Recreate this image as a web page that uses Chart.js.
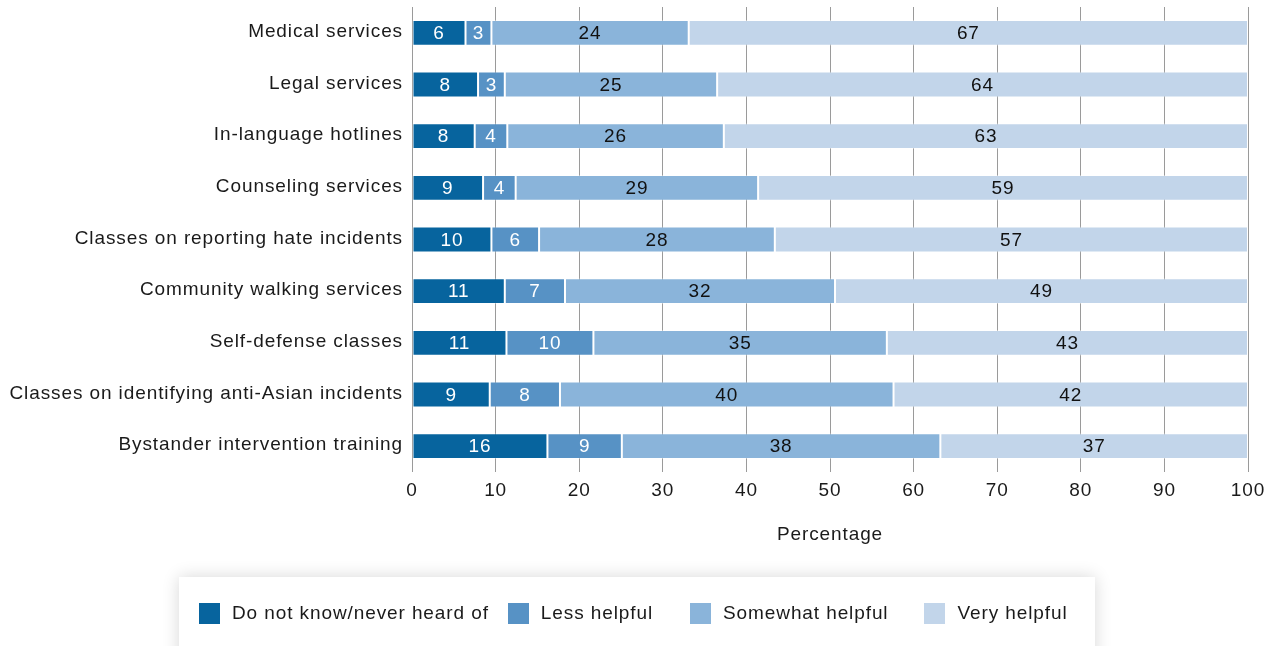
<!DOCTYPE html>
<html>
<head>
<meta charset="utf-8">
<script src="https://cdn.jsdelivr.net/npm/chart.js@4/dist/chart.umd.min.js"></script>
<style>
html,body{margin:0;padding:0;background:#fff;}
body{width:1271px;height:646px;overflow:hidden;position:relative;font-family:"Liberation Sans",Arial,sans-serif;}
#wrap{position:absolute;left:0;top:0;width:1271px;height:560px;}
#legend{position:absolute;left:179px;top:577px;width:916px;height:90px;background:#fff;
  box-shadow:0 0 16px rgba(0,0,0,0.16);display:flex;align-items:flex-start;padding-top:25px;box-sizing:border-box;padding-left:20px;}
.item{display:flex;align-items:center;font-size:19px;letter-spacing:0.9px;color:#1a1a1a;white-space:nowrap;}
.sw{width:21px;height:21px;margin-right:12px;}
</style>
</head>
<body>
<div id="wrap"><canvas id="chart"></canvas></div>
<div id="legend"></div>
<script>
const categories = [
  "Medical services",
  "Legal services",
  "In-language hotlines",
  "Counseling services",
  "Classes on reporting hate incidents",
  "Community walking services",
  "Self-defense classes",
  "Classes on identifying anti-Asian incidents",
  "Bystander intervention training"
];

const seriesNames = ["Do not know/never heard of", "Less helpful", "Somewhat helpful", "Very helpful"];

const notKnown = [6.4, 7.9, 7.5, 8.5, 9.5, 11.1, 11.3, 9.3, 16.2];
const lessHelpful = [3.1, 3.2, 3.9, 3.9, 5.7, 7.2, 10.4, 8.4, 8.9];
const somewhatHelpful = [23.6, 25.4, 25.9, 29.0, 28.2, 32.3, 35.1, 39.9, 38.1];
const veryHelpful = [66.9, 63.5, 62.7, 58.6, 56.6, 49.4, 43.2, 42.4, 36.8];

const xTicks = [0, 10, 20, 30, 40, 50, 60, 70, 80, 90, 100];

const colors = ["#07649e", "#5792c5", "#8ab4da", "#c2d5ea"];
const labelColors = ["#ffffff", "#ffffff", "#111111", "#111111"];
const legendGaps = [19, 37, 36, 0];

const font = "'Liberation Sans', Arial, sans-serif";

// helvetica-ish tracking on the canvas text
const tracking = {
  id: "tracking",
  beforeUpdate(chart) { chart.ctx.letterSpacing = "0.9px"; },
  beforeDraw(chart) { chart.ctx.letterSpacing = "0.9px"; }
};

const segLabels = {
  id: "segLabels",
  afterDatasetsDraw(chart) {
    const ctx = chart.ctx;
    ctx.save();
    ctx.font = "19px " + font;
    ctx.textAlign = "center";
    ctx.textBaseline = "middle";
    chart.data.datasets.forEach((ds, i) => {
      const meta = chart.getDatasetMeta(i);
      meta.data.forEach((bar, j) => {
        ctx.fillStyle = labelColors[i];
        ctx.fillText(Math.round(ds.data[j]), (bar.x + bar.base) / 2, bar.y + 1);
      });
    });
    ctx.restore();
  }
};

const seriesData = [notKnown, lessHelpful, somewhatHelpful, veryHelpful];

const chart = new Chart(document.getElementById("chart"), {
  type: "bar",
  data: {
    labels: categories,
    datasets: seriesNames.map((name, i) => ({
      label: name,
      data: seriesData[i],
      backgroundColor: colors[i],
      borderColor: "rgba(255,255,255,0.35)",
      borderWidth: 1,
      borderSkipped: false,
      barPercentage: 0.5,
      categoryPercentage: 1
    }))
  },
  options: {
    indexAxis: "y",
    responsive: true,
    maintainAspectRatio: false,
    animation: false,
    layout: { padding: { top: 7, right: 23, left: 0, bottom: 0 } },
    plugins: {
      legend: { display: false },
      tooltip: { enabled: false }
    },
    scales: {
      x: {
        stacked: true,
        min: 0,
        max: 100,
        afterBuildTicks(scale) {
          scale.ticks = xTicks.map(v => ({ value: v }));
        },
        afterFit(scale) {
          scale.height = 88;
          scale.paddingLeft = 0;
          scale.paddingRight = 0;
        },
        grid: { color: "#9a9a9a", lineWidth: 1, drawTicks: false },
        border: { display: false },
        ticks: { padding: 7, color: "#1a1a1a", font: { family: font, size: 19 } },
        title: {
          display: true,
          text: "Percentage",
          color: "#1a1a1a",
          font: { family: font, size: 19, lineHeight: 1.2 },
          padding: { top: 0, bottom: 14 }
        }
      },
      y: {
        stacked: true,
        afterFit(scale) {
          scale.width = 412;
          scale.paddingTop = 0;
          scale.paddingBottom = 0;
        },
        grid: { display: false, drawTicks: false },
        border: { display: false },
        ticks: { padding: 9, labelOffset: -1, color: "#1a1a1a", font: { family: font, size: 19 } }
      }
    }
  },
  plugins: [tracking, segLabels]
});

const legend = document.getElementById("legend");
chart.data.datasets.forEach((ds, i) => {
  const item = document.createElement("div");
  item.className = "item";
  item.style.marginRight = legendGaps[i] + "px";
  const sw = document.createElement("span");
  sw.className = "sw";
  sw.style.background = ds.backgroundColor;
  const tx = document.createElement("span");
  tx.textContent = ds.label;
  item.appendChild(sw);
  item.appendChild(tx);
  legend.appendChild(item);
});
</script>
</body>
</html>
